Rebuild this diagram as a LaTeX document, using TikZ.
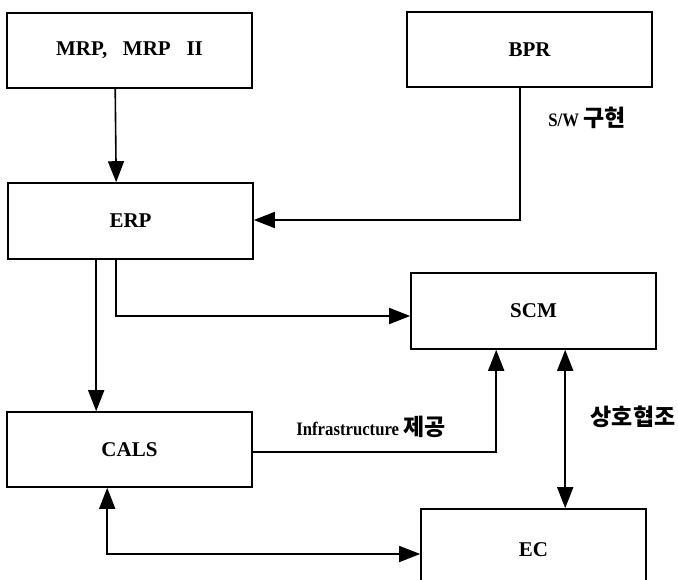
\documentclass[tikz,border=0pt]{standalone}
\usepackage{fontspec}
\setmainfont{Liberation Serif}
\newfontfamily\labfont{Liberation Serif}[FakeStretch=0.88]
\newfontfamily\kr{Noto Sans CJK KR}
\usetikzlibrary{arrows.meta}
\tikzset{
  box/.style={draw, line width=1.6pt, minimum width=245pt, minimum height=75pt, inner sep=0pt, font=\bfseries\fontsize{21}{23}\selectfont},
  arr/.style={line width=1.6pt, -{Triangle[length=21pt,width=16pt]}},
  darr/.style={line width=1.6pt, {Triangle[length=21pt,width=16pt]}-{Triangle[length=21pt,width=16pt]}},
  lab/.style={font=\labfont\bfseries\fontsize{19}{21}\selectfont, inner sep=0pt},
  krl/.style={font=\kr\bfseries\fontsize{23}{25}\selectfont}
}
\newcommand{\krt}[1]{{\kr\fontsize{23}{25}\selectfont #1}}
\begin{document}
\begin{tikzpicture}[x=1pt,y=-1pt]
\clip (0,0) rectangle (678,579);
\fill[white] (0,0) rectangle (678,579);
\node[box] (mrp) at (129.5,50.5) {MRP,\ \ \ MRP\ \ \ II};
\node[box] (bpr) at (529.5,49.5) {BPR};
\node[box, minimum height=76pt] (erp) at (130.5,221) {ERP};
\node[box, minimum height=76pt] (scm) at (533.5,311) {SCM};
\node[box] (cals) at (129.5,449.5) {CALS};
\node[box, minimum width=225pt, minimum height=82pt] (ec) at (533.5,550) {EC};
% connectors
\draw[arr] ([xshift=109pt]mrp.south west) -- ([xshift=109pt]erp.north west);
\draw[arr] ([xshift=114pt]bpr.south west) |- ([yshift=1pt]erp.east);
\coordinate (e2) at ([xshift=109pt]erp.south west);
\draw[arr] (e2) |- ([yshift=-5pt]scm.west);
\coordinate (e1) at ([xshift=89pt]erp.south west);
\draw[arr] (e1) -- (e1 |- cals.north);
\draw[arr] ([yshift=-2.5pt]cals.east) -| ([xshift=86pt]scm.south west);
\coordinate (s2) at ([xshift=155pt]scm.south west);
\draw[darr] (s2) -- (s2 |- ec.north);
\draw[darr] ([xshift=101pt]cals.south west) |- ([yshift=-4pt]ec.west);
% labels
\node[lab] (sw) at (587,118) {S/W \krt{구현}};
\node[lab] (inf) at (371,427) {Infrastructure \krt{제공}};
\node[lab, krl] (coop) at (633,417) {상호협조};
\end{tikzpicture}
\end{document}
